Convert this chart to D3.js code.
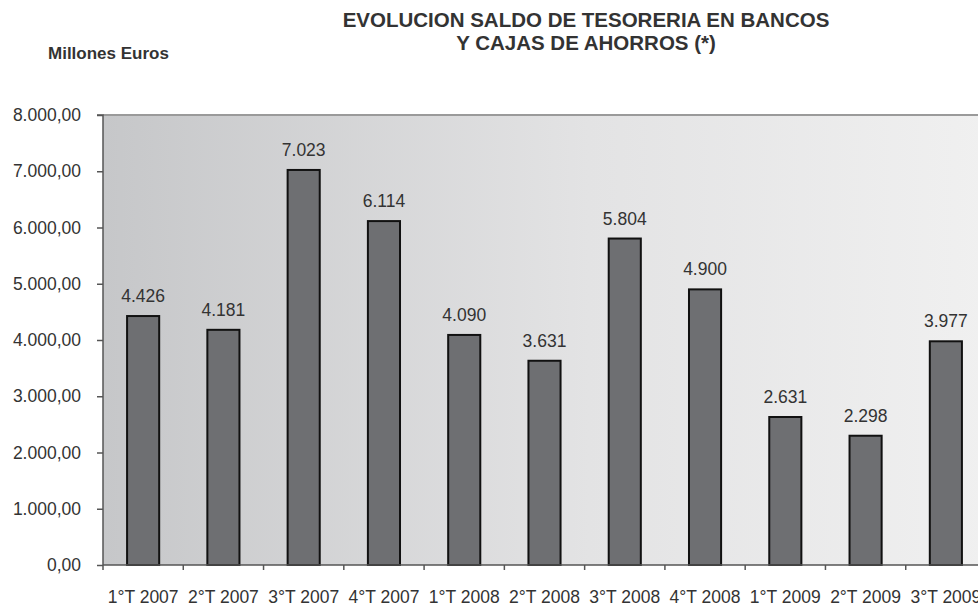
<!DOCTYPE html>
<html>
<head>
<meta charset="utf-8">
<script src="https://cdn.jsdelivr.net/npm/d3@7"></script>
<style>
  body { margin: 0; background: #fff; }
  svg { display: block; font-family: Arial, "Liberation Sans", sans-serif; }
  .axis path, .axis line { stroke: #555; stroke-width: 1.5; }
  .axis text { font-size: 17.5px; fill: #333; }
  .value { font-size: 17.5px; fill: #333; text-anchor: middle; }
  .title { font-size: 20.5px; font-weight: bold; fill: #333; text-anchor: middle; }
  .unit { font-size: 17px; font-weight: bold; fill: #333; }
</style>
</head>
<body>
<svg></svg>
<script>
var quarters = ["1°T 2007", "2°T 2007", "3°T 2007", "4°T 2007", "1°T 2008", "2°T 2008",
                "3°T 2008", "4°T 2008", "1°T 2009", "2°T 2009", "3°T 2009"];
var saldo = [4426, 4181, 7023, 6114, 4090, 3631, 5804, 4900, 2631, 2298, 3977];
var yTicks = [0, 1000, 2000, 3000, 4000, 5000, 6000, 7000, 8000];
var titleLines = ["EVOLUCION SALDO DE TESORERIA EN BANCOS", "Y CAJAS DE AHORROS (*)"];
var unitLabel = "Millones Euros";

var width = 978, height = 608;
var padding = { top: 115, bottom: 43, left: 103, right: -8 };

var es = d3.formatLocale({ decimal: ",", thousands: ".", grouping: [3], currency: ["", "€"] });
var fmtTick = es.format(",.2f");
var fmtValue = es.format(",d");

var data = quarters.map(function(q, i){ return { q: q, v: saldo[i] }; });

var svg = d3.select("svg")
  .attr("width", width)
  .attr("height", height);

var defs = svg.append("defs");
var grad = defs.append("linearGradient")
  .attr("id", "bg")
  .attr("x1", "0%").attr("x2", "100%")
  .attr("y1", "0%").attr("y2", "0%");
grad.append("stop").attr("offset", "0%").attr("stop-color", "#c6c7c9");
grad.append("stop").attr("offset", "55%").attr("stop-color", "#e3e3e4");
grad.append("stop").attr("offset", "100%").attr("stop-color", "#f0f0f0");

var x0 = padding.left, x1 = width - padding.right;
var y0 = height - padding.bottom, y1 = padding.top;

// band per quarter (ticks + labels), and padded band for bars
var xscale = d3.scaleBand().domain(quarters).range([x0, x1]);
var xbar = d3.scaleBand().domain(quarters).range([x0, x1])
  .paddingInner(0.6).paddingOuter(0.3);
var yscale = d3.scaleLinear().domain([0, 8000]).range([y0, y1]);

// plot background
svg.append("rect")
  .attr("x", x0).attr("y", y1)
  .attr("width", x1 - x0).attr("height", y0 - y1)
  .attr("fill", "url(#bg)");

// top border
svg.append("line")
  .attr("x1", x0).attr("x2", x1)
  .attr("y1", y1).attr("y2", y1)
  .attr("stroke", "#9a9a9a")
  .attr("stroke-width", 2);

// title
svg.append("g").selectAll("text")
  .data(titleLines)
  .enter().append("text")
  .attr("class", "title")
  .attr("x", 586)
  .attr("y", function(d, i){ return 27 + i * 22.5; })
  .text(function(d){ return d; });

svg.append("text")
  .attr("class", "unit")
  .attr("x", 48)
  .attr("y", 58.5)
  .text(unitLabel);

// bars
svg.append("g").selectAll("rect")
  .data(data)
  .enter().append("rect")
  .attr("x", function(d){ return xbar(d.q); })
  .attr("width", xbar.bandwidth())
  .attr("y", function(d){ return yscale(d.v); })
  .attr("height", function(d){ return y0 - yscale(d.v); })
  .attr("fill", "#6e6f72")
  .attr("stroke", "#111")
  .attr("stroke-width", 2);

// value labels
svg.append("g").selectAll("text")
  .data(data)
  .enter().append("text")
  .attr("class", "value")
  .attr("x", function(d){ return xbar(d.q) + xbar.bandwidth() / 2; })
  .attr("y", function(d){ return yscale(d.v) - 14; })
  .text(function(d){ return fmtValue(d.v); });

// Y axis
var yaxis = d3.axisLeft(yscale)
  .tickValues(yTicks)
  .tickSize(6)
  .tickPadding(16)
  .tickFormat(fmtTick);
svg.append("g")
  .attr("class", "y axis")
  .attr("transform", "translate(" + x0 + ",0)")
  .call(yaxis)
  .call(function(g){ g.select(".domain").attr("d", "M-6," + y1 + "H0V" + y0); });

// X axis: labels centred, ticks on band boundaries
var xaxis = d3.axisBottom(xscale).tickSize(0).tickPadding(26);
var gx = svg.append("g")
  .attr("class", "x axis")
  .attr("transform", "translate(0," + y0 + ")")
  .call(xaxis);
gx.select(".domain").attr("d", "M" + x0 + ",0H" + x1);
gx.selectAll(".bound")
  .data(quarters)
  .enter().append("line")
  .attr("class", "bound")
  .attr("x1", function(d){ return xscale(d); })
  .attr("x2", function(d){ return xscale(d); })
  .attr("y1", 0).attr("y2", 5);
</script>
</body>
</html>
